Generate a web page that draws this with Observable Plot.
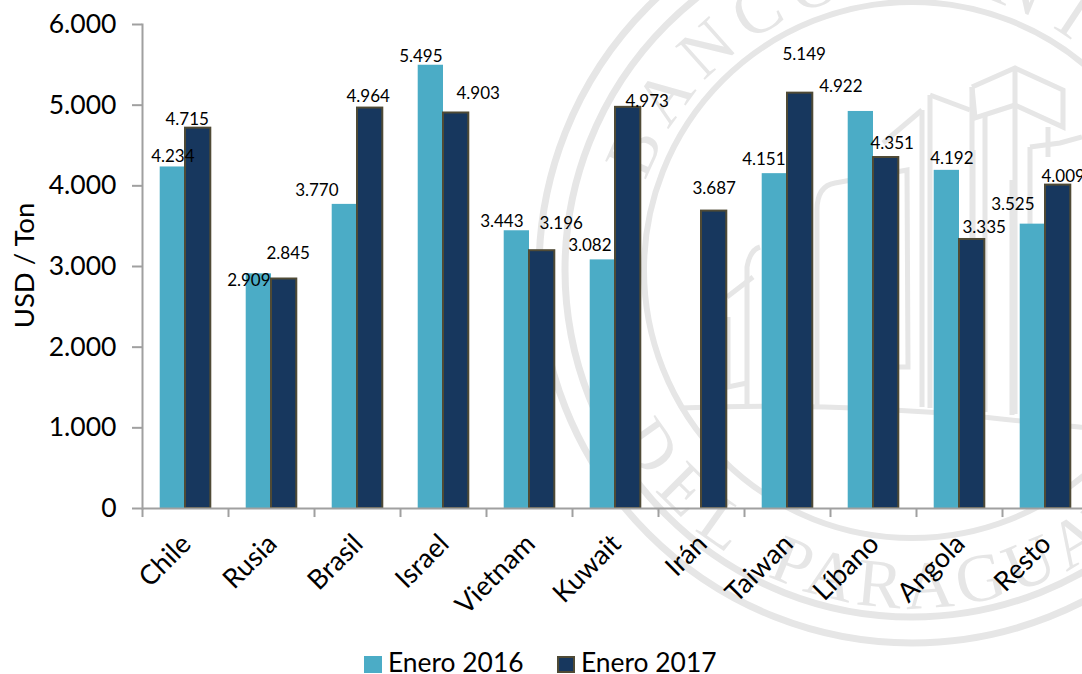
<!DOCTYPE html>
<html>
<head>
<meta charset="utf-8">
<script src="https://cdn.jsdelivr.net/npm/d3@7"></script>
<script src="https://cdn.jsdelivr.net/npm/@observablehq/plot@0.6"></script>
<style>
  html, body { margin: 0; padding: 0; background: #fff; overflow: hidden; }
  body { width: 1082px; height: 674px; font-family: Lato, "Open Sans", sans-serif; color: #000; }
  #legend { position: relative; height: 24px; font-size: 26.4px; line-height: 24px; }
  #legend span { position: absolute; top: 0; white-space: nowrap; }
  #legend i { position: absolute; top: 6px; width: 18px; height: 17px; box-sizing: border-box; }
</style>
</head>
<body>
<div id="chart"></div>
<div id="legend"></div>
<script>
const categories = ["Chile","Rusia","Brasil","Israel","Vietnam","Kuwait","Irán","Taiwan","Líbano","Angola","Resto"];
const series = ["Enero 2016","Enero 2017"];
const enero2016 = [4234,2909,3770,5495,3443,3082,null,4151,4922,4192,3525];
const enero2017 = [4715,2845,4964,4903,3196,4973,3687,5149,4351,3335,4009];
const yTicks = [0,1000,2000,3000,4000,5000,6000];
// hand-placed data label displacements, as in the original chart
const labelShift2016 = [[0,-10],[-10,7],[-28,-14],[-10,-9],[-15,-9],[-13,-14],null,[-11,-14],[-20,-25],[5,-12],[-20,-20]];
const labelShift2017 = [[-11,-9],[4,-25],[-2,-11.5],[22,-19.5],[19,-27],[19,-6],[0,-22.6],[4,-38.6],[6,-14],[12,-12],[5,-8.6]];

const colors = ["#4BACC6","#17375E"];
const edge = "#4F4A35";
const axisGray = "#A0A0A0";
const fontFamily = "Lato, 'Open Sans', sans-serif";
const dotted = d => d3.format(",")(d).replace(/,/g, ".");

const rows = categories.flatMap((c, i) => [
  {category: c, serie: series[0], value: enero2016[i], shift: labelShift2016[i]},
  {category: c, serie: series[1], value: enero2017[i], shift: labelShift2017[i]}
]).filter(d => d.value != null);

function watermark() {
  const ink = "#E6E6E6";
  const cx = 912, cy = 270;
  const g = d3.create("svg:g").attr("fill", "none").attr("stroke", ink).attr("aria-label", "watermark");
  [[373,7],[347,7],[268,6]].forEach(([r,w]) => g.append("circle").attr("cx",cx).attr("cy",cy).attr("r",r).attr("stroke-width",w));
  const defs = g.append("defs");
  const rt = 280, rb = 338;
  defs.append("path").attr("id","wmTop").attr("d",`M${cx-rt},${cy}A${rt},${rt} 0 1 1 ${cx+rt},${cy}`);
  defs.append("path").attr("id","wmBottom").attr("d",`M${cx-rb},${cy}A${rb},${rb} 0 1 0 ${cx+rb},${cy}`);
  const text = (href, offset, spacing, s) => g.append("text")
    .attr("fill", ink).attr("stroke","none").attr("text-anchor","start")
    .attr("font-family","'Liberation Serif', serif").attr("font-size",68).attr("letter-spacing",spacing)
    .append("textPath").attr("href",href).attr("startOffset",offset).text(s);
  text("#wmTop", 90, 10.7, "BANCO CENTRAL");
  text("#wmBottom", 176, 14, "DEL");
  text("#wmBottom", 381, 6, "PARAGUAY");
  const building = [
    "M680,408Q840,402 983,417T1082,427",
    "M972,87L1015,68L1063,90L1063,127L1015,105L975,118L972,87",
    "M972,87L972,412","M1015,68L1015,414","M985,116L985,412","M1048,127L1048,157",
    "M930,95L970,110","M930,95L930,408","M922,110L922,407","M922,110L883,143",
    "M817,407L817,210Q817,186 835,183L907,170L908,367L897,367",
    "M747,407L747,267Q750,250 760,247",
    "M727,297L753,277","M728,317L728,387L747,383",
    "M1030,147L1060,143L1082,137","M1030,147L1030,418","M973,150L973,415","M1012,180L1012,415"
  ];
  building.forEach(d => g.append("path").attr("d",d).attr("stroke-width",5));
  return g.node();
}

const chart = Plot.plot({
  width: 1082, height: 650,
  marginLeft: 142, marginRight: -6, marginTop: 24, marginBottom: 142,
  style: {fontFamily, background: "transparent", color: "#000"},
  fx: {domain: categories, paddingInner: 0, paddingOuter: 0, label: null, axis: null},
  x: {domain: series, paddingInner: 0, paddingOuter: 0.7, round: false, axis: null},
  y: {domain: [0, 6000], axis: null},
  color: {domain: series, range: colors},
  marks: [
    Plot.frame({anchor: "left", facetAnchor: "left", stroke: axisGray, strokeWidth: 2}),
    Plot.barY(rows, {fx: "category", x: "serie", y: "value", fill: "serie",
      stroke: d => d.serie === series[1] ? edge : "none", strokeWidth: 2}),
    Plot.ruleY([0], {stroke: axisGray, strokeWidth: 2}),
    Plot.ruleX(categories, {fx: d => d, x: () => series[0], dx: -30.35, y1: 0, y2: -112, stroke: axisGray, strokeWidth: 2}),
    Plot.axisY({anchor: "left", ticks: yTicks, tickFormat: dotted, tickSize: 10, tickPadding: 16, fontSize: 26.5,
      stroke: axisGray, strokeWidth: 2, color: "#000", label: null}),
    Plot.text(["USD / Ton"], {fx: () => categories[0], frameAnchor: "left", dx: -117, y: () => 3012, rotate: -90, text: d => d, fontSize: 27.5, textAnchor: "middle", fill: "#000"}),
    Plot.axisFx({anchor: "bottom", tickSize: 0, tickRotate: -45, tickPadding: 31, fontSize: 27, color: "#000", label: null, dx: 1}),
    ...rows.map(d => Plot.text([d], {fx: "category", x: "serie", y: "value", text: r => dotted(r.value),
      dx: d.shift[0], dy: d.shift[1], fontSize: 17, fill: "#000", lineAnchor: "middle"}))
  ]
});
chart.insertBefore(watermark(), chart.firstChild);
document.getElementById("chart").append(chart);

const legend = d3.select("#legend");
[{x: 363.5, tx: 388}, {x: 556.5, tx: 581}].forEach((p, i) => {
  legend.append("i").style("left", p.x + "px").style("background", colors[i])
    .style("border", i ? `2px solid ${edge}` : "none");
  legend.append("span").style("left", p.tx + "px").text(series[i]);
});
</script>
</body>
</html>
